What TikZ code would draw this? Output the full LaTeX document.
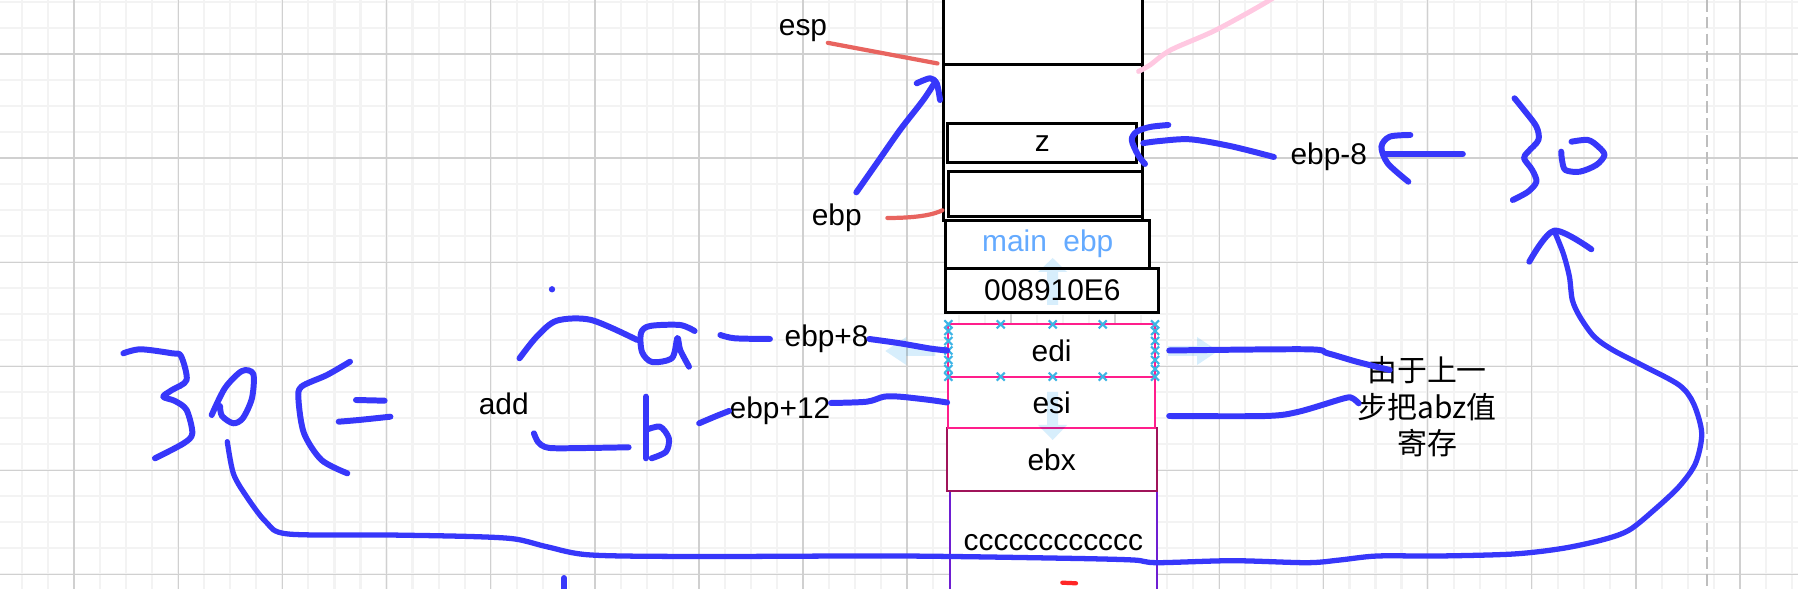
\documentclass[tikz,border=0pt]{standalone}
\usepackage{fontspec}
\setmainfont{Liberation Sans}
\newfontfamily\cjk{Noto Sans CJK SC}
\usepackage{xcolor}
\usepackage{tikz}
\usetikzlibrary{arrows.meta,positioning,calc}

\definecolor{penblue}{RGB}{55,55,250}
\definecolor{salmon}{RGB}{232,100,95}
\definecolor{blush}{RGB}{255,200,225}
\definecolor{hotpink}{RGB}{255,30,140}
\definecolor{wine}{RGB}{160,20,90}
\definecolor{stackviolet}{RGB}{110,30,210}
\definecolor{hintblue}{RGB}{215,238,252}
\definecolor{selblue}{RGB}{60,180,230}
\definecolor{mainblue}{RGB}{100,170,255}
\definecolor{gridminor}{RGB}{243,243,243}
\definecolor{gridmajor}{RGB}{208,208,208}
\definecolor{dashgray}{RGB}{190,190,190}

\begin{document}
\begin{tikzpicture}[x=0.01cm,y=-0.01cm,>=Latex,
  font=\fontsize{8.5}{10.5}\selectfont,
  minorline/.style={draw=gridminor,line width=0.6pt},
  majorline/.style={draw=gridmajor,line width=0.45pt},
  cell/.style={draw,fill=white,line width=0.85pt,inner sep=0pt},
  regcell/.style={cell,line width=0.65pt},
  lbl/.style={inner sep=0pt},
  ink/.style={draw=penblue,line width=1.7pt,line cap=round,line join=round},
  redink/.style={draw=salmon,line width=1.2pt,line cap=round},
  pinkink/.style={draw=blush,line width=1.4pt,line cap=round},
  selx/.style={draw=selblue,line width=0.6pt},
  hint/.style={fill=hintblue}]
  \useasboundingbox (0,0) rectangle (1798,589);
  \clip (0,0) rectangle (1798,589);

  \foreach \i in {0,...,68}
    \draw[minorline] ({22.15+26.025*\i},0) -- ({22.15+26.025*\i},589);
  \foreach \j in {0,...,22}
    \draw[minorline] (0,{2.3+26*\j}) -- (1798,{2.3+26*\j});
  \foreach \i in {0,...,16}
    \draw[majorline] ({74.2+104.1*\i},0) -- ({74.2+104.1*\i},589);
  \foreach \j in {0,...,5}
    \draw[majorline] (0,{54.3+104*\j}) -- (1798,{54.3+104*\j});
  \draw[dashgray,line width=0.7pt,dash pattern=on 3.3pt off 1.5pt] (1707,0) -- (1707,589);

  \node[cell,minimum width=1.98cm,minimum height=0.85cm] (topcell) at (1043,22.5) {};
  \node[cell,minimum width=1.98cm,minimum height=1.557cm] (frame) at (1043,142.85) {};
  \node[cell,minimum width=1.887cm,minimum height=0.383cm] (zcell) at (1042.35,143.15) {z};
  \node[cell,minimum width=1.93cm,minimum height=0.45cm] (blankcell) at (1045.5,194.2) {};
  \node[cell,text=mainblue,minimum width=2.035cm,minimum height=0.475cm] (mainebp) at (1047.75,244.25) {main~~ebp};
  \node[cell,minimum width=2.127cm,minimum height=0.44cm] (retaddr) at (1052.35,290.3) {008910E6};
  \node[regcell,draw=stackviolet,minimum width=2.067cm,minimum height=1.046cm] (ccc) at (1053.35,543) {cccccccccccc};
  \node[regcell,draw=wine,minimum width=2.10cm,minimum height=0.624cm] (ebx) at (1051.7,459.5) {ebx};
  \node[regcell,draw=hotpink,minimum width=2.067cm,minimum height=0.516cm] (esi) at (1051.65,402.5) {esi};
  \node[regcell,draw=hotpink,minimum width=2.067cm,minimum height=0.524cm] (edi) at (1051.65,350.5) {edi};

  \begin{scope}[blend mode=multiply]
    \fill[hint] (1038,272) -- (1052.7,258) -- (1067,272) -- cycle (1047,272) rectangle (1058,305);
    \fill[hint] (1197,337) -- (1218,351) -- (1197,365) -- cycle (1168,346) rectangle (1197,356);
    \fill[hint] (1038,425) -- (1052.7,440) -- (1067,425) -- cycle (1047,392) rectangle (1058,425);
    \fill[hint] (906.3,337) -- (885.3,351) -- (906.3,365) -- cycle (906.3,346) rectangle (935.3,356);
  \end{scope}
  \foreach \x in {948.3,1000.7,1052.7,1102.7,1155}
    \foreach \y in {324.3,376.7}
      \draw[selx] ({\x-4},{\y-4}) -- ({\x+4},{\y+4}) ({\x-4},{\y+4}) -- ({\x+4},{\y-4});
  \foreach \x in {948.3,1155}
    \foreach \y in {331,341,350.5,360,369}
      \draw[selx] ({\x-4},{\y-4}) -- ({\x+4},{\y+4}) ({\x-4},{\y+4}) -- ({\x+4},{\y-4});

  \node[lbl] (esp) at (803,31) {esp};
  \node[lbl] (ebp) at (836.7,218) {ebp};
  \node[lbl] (ebpm8) at (1328.8,157) {ebp-8};
  \node[lbl] (ebpp8) at (826.6,339) {ebp+8};
  \node[lbl] (ebpp12) at (780,411) {ebp+12};
  \node[lbl] (add) at (503.7,404) {add};
  \node[lbl,align=center,font=\fontsize{8.5}{10.5}\selectfont\cjk] (note) at (1427,406.7) {由于上一\\步把abz值\\寄存};

  \draw[redink] (esp.south east) -- ([xshift=-0.05cm]frame.north west);
  \draw[redink] ([xshift=0.25cm]ebp.east) .. controls (920,218) and (935,214) .. ([yshift=0.12cm]frame.south west);
  \draw[pinkink] plot[smooth] coordinates {([shift={(-5,8)}]frame.north east) (1150,65) (1170.7,50) (1216,30) (1270,0) (1290,-15)};
  \draw[redink,draw=red!85!white] (1062.3,582.7) -- (1076,583.3);

  \draw[ink] plot[smooth] coordinates {([shift={(-6,-11)}]ebp.north east) (876.7,163.3) (900,130) (923.3,100) ([shift={(-7,18)}]frame.north west)};
  \draw[ink] plot[smooth] coordinates {(916.7,83.3) (930,78.3) (936.7,83.3) (940,100)};

  \draw[ink] plot[smooth] coordinates {([xshift=-0.16cm]ebpm8.west) (1230,146) (1190,139.3) (1160,141) ([xshift=0.05cm]zcell.east)};
  \draw[ink] plot[smooth] coordinates {(1168.3,125) (1150,127) (1136.7,131.7) (1131.7,140) (1138,155) (1145,164)};
  \draw[ink] (1462.8,154) -- ([shift={(16.5,-3)}]ebpm8.east);
  \draw[ink] plot[smooth] coordinates {(1410.3,135) (1389.7,136.7) (1381.4,146.7) (1387.6,163.3) (1408.3,181.7)};
  \draw[ink] plot[smooth] coordinates {(1514.5,98.3) (1524,110) (1536.4,126.7) (1538.4,140) (1528.1,151.7) (1524,158.3) (1532.2,170) (1536.4,181.7) (1528.1,191.7) (1512.8,200)};
  \draw[ink] plot[smooth] coordinates {(1571.5,141.7) (1588,140) (1598.3,146.7) (1604.5,155) (1596.3,165) (1579.8,171.7) (1565.3,170) (1562,160) (1561.2,151.7)};
  \draw[ink] plot[smooth] coordinates {(1529.3,261.7) (1554.1,230.7) (1591.3,249.3)};

  \draw[ink,line width=1.5pt] plot[smooth] coordinates {(227.3,441.7) (233.3,473.3) (245.5,495) (266,522) (288,534) (388,535) (470,536.5) (515,539) (548,547) (591,555) (700,556.5) (900,556) (1066.7,558.3) (1133.3,560) (1156.7,562.7) (1232.6,560.7) (1307,562.7) (1340,560) (1377.3,556) (1439.3,556) (1513.6,554) (1563.2,548.3) (1604.5,539.3) (1629.3,530) (1654.1,510) (1679,486.7) (1695.5,463.3) (1701.7,433.3) (1693.4,403.3) (1679,385) (1641.7,365) (1612.8,350) (1594.2,336.7) (1579.8,316.7) (1572.3,300) (1569.4,276.7) (1563.2,253.3) (1554.1,230.7)};

  \draw[ink] plot[smooth] coordinates {([xshift=0.13cm]edi.east) (1307,349.3) (1327.7,353.3) (1356.6,361.7) (1389.7,370)};
  \draw[ink] plot[smooth] coordinates {([shift={(13,13.5)}]esi.east) (1265.7,416) (1298.8,411.7) (1344.2,398.3) (1352.5,398.3) (1358.7,403.3)};

  \draw[ink] plot[smooth] coordinates {(720.4,335) (734.8,338.3) ([xshift=-0.14cm]ebpp8.west)};
  \draw[ink] plot[smooth] coordinates {(ebpp8.east) (900,343.3) (930,348.5) (edi.west)};
  \draw[ink] plot[smooth] coordinates {(699.2,423.3) (714.7,416.7) (ebpp12.west)};
  \draw[ink] plot[smooth] coordinates {([yshift=0.08cm]ebpp12.east) (866.8,401.7) (884,396.7) (900,396.7) (930,400) (esi.west)};

  \fill[penblue] (552,289.3) circle (0.9pt);
  \draw[ink] plot[smooth] coordinates {(519.5,358.3) (536.7,336.7) (556.8,320.7) (591.3,320) (637.2,340)};
  \draw[ink] plot[smooth] coordinates {(694.6,331) (680,325) (650,326) (641,333) (642,352) (652,362) (672,358) (677.4,338) (680.2,350) (689,366.7)};
  \draw[ink] plot[smooth] coordinates {(533.9,433.3) (538,442) (545,447) (560,448.3) (628.6,447.3)};
  \draw[ink] (645.8,396.7) -- (645.8,458.3);
  \draw[ink] plot[smooth] coordinates {(645.8,430) (660,426.7) (668.8,438.3) (666,451.7) (651.6,458.3)};

  \draw[ink] plot[smooth] coordinates {(123.4,353.3) (140.6,349.3) (172,353.3) (181,356) (186.6,380) (172,390) (163.3,396.7) (175,401) (186.6,410) (192.3,433.3) (183.7,443.3) (155,458.3)};
  \draw[ink] plot[smooth] coordinates {(211.7,415) (225,388) (242,371) (253.3,374) (252,398) (243,418) (233.3,423.3) (222,416) (220,406)};
  \draw[ink] plot[smooth] coordinates {(350,361.7) (327,375) (301.4,386.7) (298.5,400) (304,433.3) (321.5,460) (347.3,473.3)};
  \draw[ink] (356,400) -- (384.6,400.7);
  \draw[ink] plot[smooth] coordinates {(338.7,421.7) (358.8,420) (390.4,416.7)};
  \draw[ink] (564,578) -- (564,595);
\end{tikzpicture}
\end{document}
